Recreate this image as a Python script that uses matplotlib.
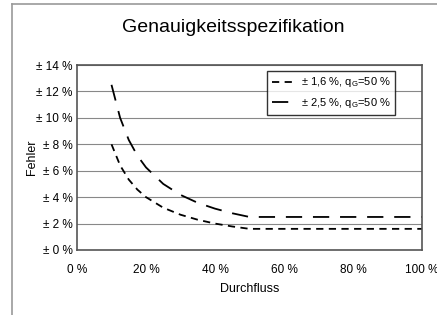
import matplotlib.pyplot as plt
from matplotlib.lines import Line2D

plt.rcParams['font.family'] = ['Liberation Sans', 'DejaVu Sans']

# Durchfluss in %, Fehler in %
durchfluss = [10, 12.5, 15, 17.5, 20, 25, 30, 35, 40, 45, 50, 100]
fehler_16 = [8.0, 6.4, 5.33, 4.57, 4.0, 3.2, 2.67, 2.29, 2.0, 1.78, 1.6, 1.6]
fehler_25 = [12.5, 10.0, 8.33, 7.14, 6.25, 5.0, 4.17, 3.57, 3.13, 2.78, 2.5, 2.5]

y_ticks = [0, 2, 4, 6, 8, 10, 12, 14]
x_ticks = [0, 20, 40, 60, 80, 100]


def main():
    fig = plt.figure(figsize=(4.37, 3.15), dpi=100)
    W, H = 437, 315

    # outer frame (only left and top visible)
    fig.add_artist(Line2D([12 / W, 12 / W], [0, 1 - 4 / H], color='#999999', lw=1.2))
    fig.add_artist(Line2D([12 / W, 1], [1 - 4 / H, 1 - 4 / H], color='#999999', lw=1.2))

    ax = fig.add_axes([77 / W, 1 - 250 / H, 345 / W, 185 / H])
    ax.plot(durchfluss, fehler_16, color='black', lw=1.3, dashes=(4, 3),
            label='± 1,6 %, q$_\\mathregular{G}$=50 %')
    ax.plot(durchfluss, fehler_25, color='black', lw=1.3, dashes=(9, 6),
            label='± 2,5 %, q$_\\mathregular{G}$=50 %')

    ax.set_xlim(0, 100)
    ax.set_ylim(0, 14)
    ax.set_yticks(y_ticks)
    ax.set_yticklabels(['± %d %%' % v for v in y_ticks])
    ax.set_xticks(x_ticks)
    ax.set_xticklabels(['%d %%' % v for v in x_ticks])
    ax.tick_params(length=0, labelsize=8.5)
    ax.tick_params(axis='x', pad=10)
    ax.tick_params(axis='y', pad=3)
    ax.yaxis.grid(True, color='#888888', lw=0.8)
    ax.set_axisbelow(True)
    for s in ax.spines.values():
        s.set_color('#555555')
        s.set_linewidth(1.2)

    ax.set_xlabel('Durchfluss', fontsize=9, labelpad=5)
    ax.set_ylabel('Fehler', fontsize=9, labelpad=-1)

    fig.text(233 / W, 1 - 28 / H, 'Genauigkeitsspezifikation', ha='center', va='center', fontsize=14)

    leg = ax.legend(loc='upper right', bbox_to_anchor=(318 / 345, 1 - 6 / 185), fontsize=8,
                    frameon=True, fancybox=False, handlelength=2.2, handletextpad=0.4,
                    borderpad=0.4, labelspacing=0.6, borderaxespad=0)
    leg.get_frame().set_edgecolor('black')
    leg.get_frame().set_linewidth(1.0)

    fig.savefig('out.png', dpi=100)


if __name__ == "__main__":
    main()
